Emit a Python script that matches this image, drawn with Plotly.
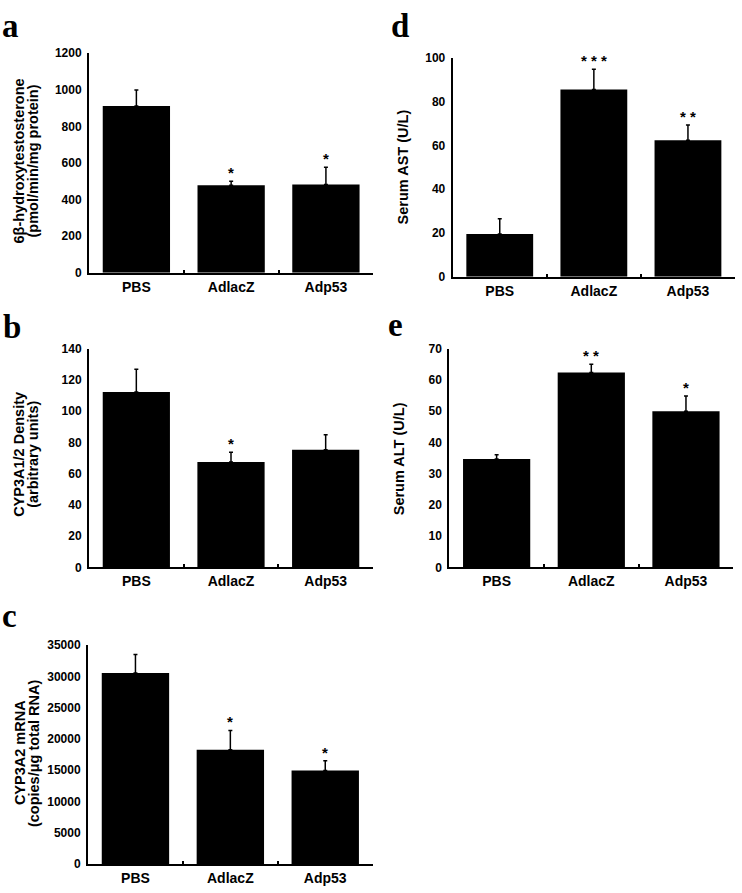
import plotly.graph_objects as go

W, H = 742, 893

categories = ["PBS", "AdlacZ", "Adp53"]

a_vals = [911, 479, 483]
a_err = [88, 21, 94]
a_stars = ["", "*", "*"]

b_vals = [112.4, 67.5, 75.4]
b_err = [14.6, 6.3, 9.5]
b_stars = ["", "*", ""]

c_vals = [30530, 18255, 14950]
c_err = [2990, 3100, 1575]
c_stars = ["", "*", "*"]

d_vals = [19.5, 85.5, 62.4]
d_err = [7.0, 9.3, 6.9]
d_stars = ["", "* * *", "* *"]

e_vals = [34.7, 62.4, 50.0]
e_err = [1.4, 2.7, 4.9]
e_stars = ["", "* *", "*"]

a_title = ["6β-hydroxytestosterone", "(pmol/min/mg protein)"]
b_title = ["CYP3A1/2 Density", "(arbitrary units)"]
c_title = ["CYP3A2 mRNA", "(copies/μg total RNA)"]
d_title = ["Serum AST (U/L)"]
e_title = ["Serum ALT (U/L)"]

a_range, a_dtick = [0, 1200], 200
b_range, b_dtick = [0, 140], 20
c_range, c_dtick = [0, 35000], 5000
d_range, d_dtick = [0, 100], 20
e_range, e_dtick = [0, 70], 10

SANS = "Liberation Sans, Arial, Helvetica, sans-serif"
SERIF = "Liberation Serif, Times New Roman, serif"
LABEL_SIZE = 33

# lab = (left x px, top-of-text-box y px)
panels = [
    dict(vals=a_vals, err=a_err, stars=a_stars, title=a_title, rng=a_range, dtick=a_dtick,
         box=(89, 373.3, 47, 270), label="a", lab=(1, 0), tx=[19, 33], ty=157),
    dict(vals=b_vals, err=b_err, stars=b_stars, title=b_title, rng=b_range, dtick=b_dtick,
         box=(89, 373, 347.3, 569.3), label="b", lab=(2, 306), tx=[19, 33], ty=455),
    dict(vals=c_vals, err=c_err, stars=c_stars, title=c_title, rng=c_range, dtick=c_dtick,
         box=(88, 372.7, 648.3, 870.7), label="c", lab=(1, 599), tx=[20, 34], ty=758),
    dict(vals=d_vals, err=d_err, stars=d_stars, title=d_title, rng=d_range, dtick=d_dtick,
         box=(452.7, 735, 51.7, 274), label="d", lab=(390, 0), tx=[402.5], ty=162.5),
    dict(vals=e_vals, err=e_err, stars=e_stars, title=e_title, rng=e_range, dtick=e_dtick,
         box=(449.3, 733.3, 347.3, 569.3), label="e", lab=(387, 304), tx=[399], ty=459.5),
]

fig = go.Figure()
annotations = []
layout_axes = {}

for i, p in enumerate(panels):
    n = "" if i == 0 else str(i + 1)
    xa, ya = "x" + n, "y" + n
    x0, x1, yt, yb = p["box"]
    fig.add_trace(go.Bar(
        x=categories, y=p["vals"], xaxis=xa, yaxis=ya,
        marker=dict(color="black", line=dict(width=0)),
        error_y=dict(type="data", symmetric=False, array=p["err"], arrayminus=[0] * 3,
                     color="black", thickness=1.5, width=2),
        showlegend=False, hoverinfo="skip",
    ))
    layout_axes["xaxis" + n] = dict(
        domain=[x0 / W, x1 / W], anchor=ya, type="category",
        showline=True, linecolor="black", linewidth=2,
        ticks="inside", ticklen=3, tickwidth=1.5, tickcolor="black", tickson="boundaries",
        tickfont=dict(family=SANS, size=14, color="black", weight="bold"),
        showgrid=False, zeroline=False, fixedrange=True,
    )
    layout_axes["yaxis" + n] = dict(
        domain=[1 - yb / H, 1 - yt / H], anchor=xa, range=p["rng"], dtick=p["dtick"],
        tickformat="d", showline=True, linecolor="black", linewidth=2,
        ticks="outside", ticklen=3, tickcolor="rgba(0,0,0,0)",
        showgrid=False, zeroline=False, fixedrange=True,
        tickfont=dict(family=SANS, size=12, color="black", weight="bold"),
    )
    for cat, v, e, s in zip(categories, p["vals"], p["err"], p["stars"]):
        if s:
            annotations.append(dict(
                x=cat, y=v + e, xref=xa, yref=ya, text=s, showarrow=False,
                xanchor="center", yanchor="bottom", yshift=-2,
                font=dict(family=SANS, size=15, color="black", weight="bold"),
            ))
    lx, ly = p["lab"]
    annotations.append(dict(
        x=lx / W, y=1 - ly / H, xref="paper", yref="paper", text=p["label"],
        showarrow=False, xanchor="left", yanchor="top", borderpad=0,
        font=dict(family=SERIF, size=LABEL_SIZE, color="black", weight="bold"),
    ))
    for tx, line in zip(p["tx"], p["title"]):
        annotations.append(dict(
            x=tx / W, y=1 - p["ty"] / H, xref="paper", yref="paper", text=line,
            showarrow=False, textangle=-90, xanchor="center", yanchor="middle",
            font=dict(family=SANS, size=14.5, color="black", weight="bold"),
        ))

fig.update_layout(
    width=W, height=H, margin=dict(l=0, r=0, t=0, b=0),
    paper_bgcolor="white", plot_bgcolor="white",
    bargap=0.29, annotations=annotations, **layout_axes,
)

fig.write_html("out.html", config={"displayModeBar": False},
               post_script="document.body.style.margin='0';")
